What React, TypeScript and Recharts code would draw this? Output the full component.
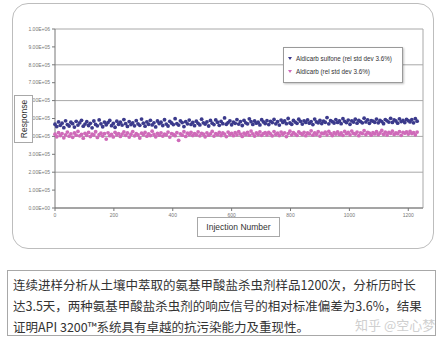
import React from 'react';
import { ScatterChart, Scatter, XAxis, YAxis, CartesianGrid, ReferenceLine, Legend } from 'recharts';

// Injection numbers sampled from the 1200-injection run
const injections = [
  0, 6, 12, 18, 24, 30, 36, 42, 48, 54, 60, 66, 72, 78, 84, 90, 96, 102, 108, 114,
  120, 126, 132, 138, 144, 150, 156, 162, 168, 174, 180, 186, 192, 198, 204, 210, 216, 222, 228, 234,
  240, 246, 252, 258, 264, 270, 276, 282, 288, 294, 300, 306, 312, 318, 324, 330, 336, 342, 348, 354,
  360, 366, 372, 378, 384, 390, 396, 402, 408, 414, 420, 426, 432, 438, 444, 450, 456, 462, 468, 474,
  480, 486, 492, 498, 504, 510, 516, 522, 528, 534, 540, 546, 552, 558, 564, 570, 576, 582, 588, 594,
  600, 606, 612, 618, 624, 630, 636, 642, 648, 654, 660, 666, 672, 678, 684, 690, 696, 702, 708, 714,
  720, 726, 732, 738, 744, 750, 756, 762, 768, 774, 780, 786, 792, 798, 804, 810, 816, 822, 828, 834,
  840, 846, 852, 858, 864, 870, 876, 882, 888, 894, 900, 906, 912, 918, 924, 930, 936, 942, 948, 954,
  960, 966, 972, 978, 984, 990, 996, 1002, 1008, 1014, 1020, 1026, 1032, 1038, 1044, 1050, 1056, 1062, 1068, 1074,
  1080, 1086, 1092, 1098, 1104, 1110, 1116, 1122, 1128, 1134, 1140, 1146, 1152, 1158, 1164, 1170, 1176, 1182, 1188, 1194,
  1200, 1206, 1212, 1218, 1224, 1230,
];

// Response in thousands of counts
const sulfone = [
  468, 455, 481, 462, 474, 449, 487, 466, 458, 479, 471, 452, 484, 463, 476, 490, 457, 469, 482, 461,
  473, 448, 486, 467, 459, 492, 470, 454, 480, 465, 477, 489, 460, 472, 451, 485, 468, 479, 463, 494,
  471, 456, 483, 466, 475, 459, 488, 470, 462, 497, 474, 457, 481, 468, 490, 464, 476, 453, 486, 472,
  479, 461, 493, 469, 458, 484, 475, 466, 499, 471, 463, 487, 477, 455, 482, 470, 491, 467, 478, 460,
  485, 473, 464, 496, 476, 469, 481, 458, 489, 474, 466, 492, 479, 462, 484, 471, 503, 468, 477, 487,
  465, 480, 473, 494, 469, 483, 461, 490, 476, 470, 498, 482, 467, 486, 474, 479, 464, 493, 481, 472,
  488, 466, 484, 477, 495, 470, 482, 463, 491, 478, 486, 471, 500, 475, 468, 489, 480, 473, 496, 484,
  469, 487, 478, 492, 474, 483, 466, 497, 481, 476, 490, 472, 485, 479, 505, 470, 488, 482, 475, 494,
  478, 486, 471, 499, 484, 477, 491, 468, 487, 480, 496, 474, 489, 483, 476, 502, 481, 492, 473, 488,
  485, 479, 497, 476, 490, 483, 471, 494, 487, 480, 501, 478, 492, 486, 474, 498, 483, 489, 477, 495,
  488, 481, 493, 476, 499, 485,
];

const aldicarb = [
  412, 398, 421, 405, 416, 392, 409, 424, 401, 414, 395, 419, 407, 428, 403, 411, 390, 417, 406, 422,
  399, 413, 408, 426, 394, 410, 418, 402, 415, 385, 420, 404, 411, 397, 423, 409, 416, 400, 413, 425,
  406, 419, 396, 412, 427, 403, 415, 408, 391, 418, 410, 422, 401, 414, 405, 429, 411, 398, 417, 407,
  420, 402, 413, 409, 424, 396, 416, 411, 404, 421, 378, 414, 407, 426, 400, 418, 410, 423, 405, 415,
  409, 425, 403, 417, 412, 398, 420, 407, 414, 428, 402, 416, 410, 422, 405, 419, 413, 399, 424, 411,
  417, 404, 421, 409, 426, 413, 400, 418, 411, 423, 407, 430, 414, 402, 419, 410, 425, 406, 416, 421,
  408, 422, 414, 403, 427, 411, 418, 405, 424, 412, 420, 399, 416, 429, 409, 421, 413, 406, 425, 417,
  410, 423, 404, 419, 414, 431, 407, 420, 412, 426, 402, 418, 415, 424, 409, 428, 416, 405, 421, 413,
  425, 411, 419, 406, 428, 415, 422, 409, 430, 417, 413, 424, 404, 420, 416, 432, 410, 423, 418, 407,
  421, 414, 426, 410, 419, 433, 412, 424, 408, 422, 417, 429, 411, 420, 415, 427, 406, 423, 418, 425,
  413, 428, 416, 421, 409, 424,
];

const xTicks = [0, 200, 400, 600, 800, 1000, 1200];
const yTicks = [0, 100, 200, 300, 400, 500, 600, 700, 800, 900, 1000];

const seriesNames = ['Aldicarb sulfone (rel std dev 3.6%)', 'Aldicarb (rel std dev 3.6%)'];
const COLORS = ['#3b3a8c', '#cf6ab9'];

const captionLines = [
  '连续进样分析从土壤中萃取的氨基甲酸盐杀虫剂样品1200次，分析历时长',
  '达3.5天，两种氨基甲酸盐杀虫剂的响应信号的相对标准偏差为3.6%，结果',
  '证明API 3200™系统具有卓越的抗污染能力及重现性。',
];

const sulfoneData = injections.map((x, i) => ({ x, y: sulfone[i] }));
const aldicarbData = injections.map((x, i) => ({ x, y: aldicarb[i] }));

// 500 (thousands) -> "5.00E+05"
const formatY = (v: number) => {
  if (v === 0) return '0.00E+00';
  const n = v * 1000;
  const exp = Math.floor(Math.log10(n));
  const mant = (n / Math.pow(10, exp)).toFixed(2);
  return `${mant}E+${String(exp).padStart(2, '0')}`;
};

const dot = (color: string) => (props: any) => (
  <circle cx={props.cx} cy={props.cy} r={1.9} fill={color} />
);

const LegendBox = () => (
  <div
    style={{
      background: '#fff',
      border: '1px solid #9a9a9a',
      boxShadow: '1px 1px 2px rgba(0,0,0,0.25)',
      padding: '4px 4px',
      fontFamily: 'Arial, "Liberation Sans", sans-serif',
      fontSize: 6.3,
      color: '#333',
      lineHeight: '13px',
    }}
  >
    {seriesNames.map((name, i) => (
      <div key={name} style={{ display: 'flex', alignItems: 'center', gap: 4 }}>
        <svg width={4} height={5}>
          <path d="M0 1 L4 1 L2 4 Z" fill={COLORS[i]} />
        </svg>
        <span>{name}</span>
      </div>
    ))}
  </div>
);

export default function App() {
  return (
    <div
      style={{
        position: 'absolute',
        left: 0,
        top: 0,
        width: 447,
        height: 347,
        background: '#fff',
        overflow: 'hidden',
      }}
    >
      {/* rounded frame around the chart */}
      <div
        style={{
          position: 'absolute',
          left: 12,
          top: 3,
          width: 420,
          height: 244,
          border: '1px solid #bdbdbd',
          borderRadius: 16,
        }}
      />

      <div style={{ position: 'absolute', left: 0, top: 0 }}>
        <ScatterChart width={447} height={250} margin={{ top: 29, right: 24, bottom: 22, left: 0 }}>
          <CartesianGrid horizontal vertical={false} stroke="#a8a8a8" />
          <XAxis
            type="number"
            dataKey="x"
            domain={[0, 1250]}
            ticks={xTicks}
            height={20}
            axisLine={{ stroke: '#777' }}
            tickLine={{ stroke: '#777' }}
            tickSize={3}
            tick={{ fontSize: 5, fill: '#777', fontFamily: 'Arial, sans-serif' }}
          />
          <YAxis
            type="number"
            dataKey="y"
            domain={[0, 1000]}
            ticks={yTicks}
            width={55}
            tickFormatter={formatY}
            axisLine={{ stroke: '#777' }}
            tickLine={{ stroke: '#777' }}
            tickSize={3}
            tick={{ fontSize: 5, fill: '#777', fontFamily: 'Arial, sans-serif' }}
          />
          <ReferenceLine x={1250} stroke="#a8a8a8" />
          <Legend
            layout="horizontal"
            verticalAlign="middle"
            align="center"
            content={<LegendBox />}
            wrapperStyle={{ position: 'absolute', left: 283, top: 47, width: 120 }}
          />
          <Scatter
            name={seriesNames[0]}
            data={sulfoneData}
            fill={COLORS[0]}
            shape={dot(COLORS[0])}
            isAnimationActive={false}
          />
          <Scatter
            name={seriesNames[1]}
            data={aldicarbData}
            fill={COLORS[1]}
            shape={dot(COLORS[1])}
            isAnimationActive={false}
          />
        </ScatterChart>
      </div>

      {/* axis title boxes */}
      <div
        style={{
          position: 'absolute',
          left: 14,
          top: 95,
          width: 19,
          height: 48,
          border: '1px solid #a8a8a8',
          background: '#fff',
          boxSizing: 'border-box',
        }}
      >
        <div
          style={{
            position: 'absolute',
            left: '50%',
            top: '50%',
            transform: 'translate(-50%, -50%) rotate(-90deg)',
            fontFamily: 'Arial, "Liberation Sans", sans-serif',
            fontSize: 8.5,
            color: '#333',
            whiteSpace: 'nowrap',
          }}
        >
          Response
        </div>
      </div>
      <div
        style={{
          position: 'absolute',
          left: 197,
          top: 217,
          width: 83,
          height: 20,
          border: '1px solid #a8a8a8',
          background: '#fff',
          boxSizing: 'border-box',
          display: 'flex',
          alignItems: 'center',
          justifyContent: 'center',
          fontFamily: 'Arial, "Liberation Sans", sans-serif',
          fontSize: 8.5,
          color: '#333',
          whiteSpace: 'nowrap',
        }}
      >
        Injection Number
      </div>

      {/* caption */}
      <div
        style={{
          position: 'absolute',
          left: 7,
          top: 270,
          width: 429,
          height: 66,
          border: '1px solid #a8a8a8',
          boxSizing: 'border-box',
          padding: '3px 0 0 5px',
          fontFamily: '"Noto Sans CJK SC", sans-serif',
          fontSize: 12.5,
          lineHeight: '21px',
          color: '#333',
        }}
      >
        {captionLines.map((line) => (
          <div key={line} style={{ whiteSpace: 'nowrap' }}>{line}</div>
        ))}
      </div>
      <div
        style={{
          position: 'absolute',
          left: 355,
          top: 315,
          fontFamily: '"Noto Sans CJK SC", sans-serif',
          fontSize: 13,
          color: '#cfcfcf',
          whiteSpace: 'nowrap',
        }}
      >
        知乎 @空心梦
      </div>
    </div>
  );
}
